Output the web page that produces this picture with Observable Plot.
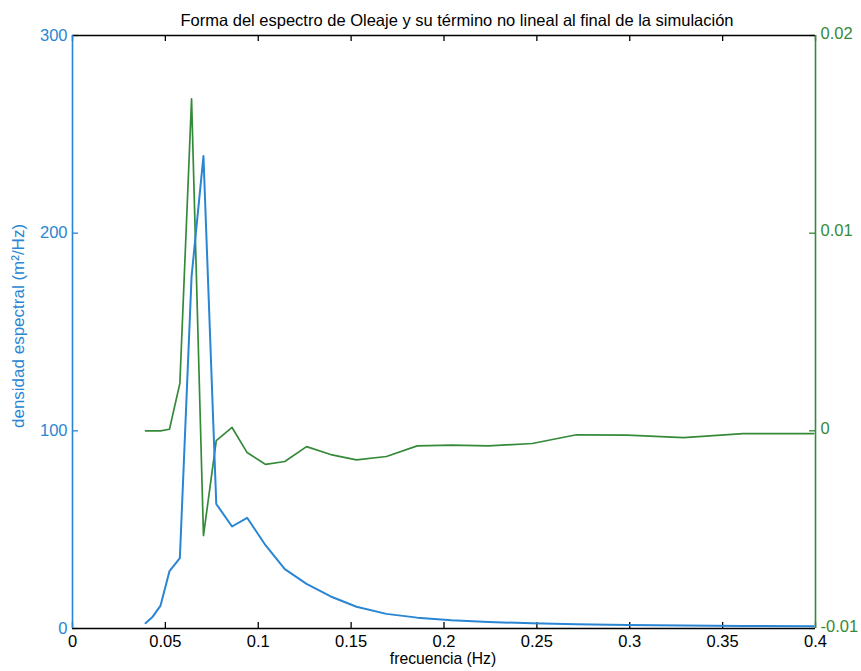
<!DOCTYPE html>
<html>
<head>
<meta charset="utf-8">
<script src="https://cdn.jsdelivr.net/npm/d3@7"></script>
<script src="https://cdn.jsdelivr.net/npm/@observablehq/plot@0.6"></script>
<style>
  body { margin: 0; background: #fff; }
  #chart svg { font-family: "Liberation Sans", Arial, Helvetica, sans-serif; }
</style>
</head>
<body>
<div id="chart"></div>
<script>
// Frecuencias discretas del espectro (Hz)
const frecuencia = [0.0393, 0.0432, 0.0474, 0.0522, 0.0578, 0.0641, 0.0705, 0.0774, 0.0859, 0.0940,
  0.1040, 0.1143, 0.1260, 0.1390, 0.1529, 0.1690, 0.1856, 0.2040, 0.2240, 0.2475,
  0.2713, 0.2986, 0.3290, 0.3610, 0.3990];

// Densidad espectral del oleaje (m²/Hz), eje izquierdo
const densidad = [2.7, 6, 11.6, 29, 35.6, 178, 239, 63, 51.6, 56,
  42, 30, 22.6, 16.2, 11, 7.4, 5.5, 4.2, 3.3, 2.6,
  2.1, 1.8, 1.5, 1.3, 1.1];

// Término no lineal, eje derecho
const terminoNoLineal = [0, 0, 0, 0.00008, 0.0024, 0.0168, -0.0053, -0.0005, 0.00017, -0.0011,
  -0.0017, -0.00155, -0.0008, -0.0012, -0.00147, -0.0013, -0.00076, -0.00072, -0.00076, -0.00064,
  -0.0002, -0.00022, -0.00034, -0.00014, -0.00014];

// Marcas de los ejes
const xTicks = [0, 0.05, 0.1, 0.15, 0.2, 0.25, 0.3, 0.35, 0.4];
const xTickLabels = ["0", "0.05", "0.1", "0.15", "0.2", "0.25", "0.3", "0.35", "0.4"];
const yTicksLeft = [0, 100, 200, 300];
const yTicksRight = [-0.01, 0, 0.01, 0.02];
const yTickLabelsRight = ["-0.01", "0", "0.01", "0.02"];

const titulo = "Forma del espectro de Oleaje y su término no lineal al final de la simulación";
const etiquetaX = "frecuencia (Hz)";
const etiquetaY = "densidad espectral (m²/Hz)";

const azul = "#2a86d2";
const verde = "#358a3a";
const fuente = '"Liberation Sans", Arial, Helvetica, sans-serif';

// Dimensiones del lienzo
const W = 861, H = 671;
const mL = 72, mR = 46, mT = 35, mB = 43;
const tick = 6;

// Dominios de los dos ejes verticales
const leftDomain = [0, 300];
const rightDomain = [-0.01, 0.02];
// Lleva un valor del eje derecho a las unidades del eje izquierdo
const toLeft = (v) => (v - rightDomain[0]) / (rightDomain[1] - rightDomain[0]) * (leftDomain[1] - leftDomain[0]) + leftDomain[0];

const espectro = frecuencia.map((f, i) => ({f, v: densidad[i]}));
const noLineal = frecuencia.map((f, i) => ({f, v: toLeft(terminoNoLineal[i])}));

const xLabel = new Map(xTicks.map((t, i) => [t, xTickLabels[i]]));
const rightPos = yTicksRight.map(toLeft);
const rightLabel = new Map(rightPos.map((p, i) => [p, yTickLabelsRight[i]]));

const frameW = W - mL - mR, frameH = H - mT - mB;

const chart = Plot.plot({
  width: W,
  height: H,
  marginLeft: mL,
  marginRight: mR,
  marginTop: mT,
  marginBottom: mB,
  style: {fontFamily: fuente, fontSize: "16.5px", background: "white", color: "black", overflow: "visible"},
  x: {domain: [0, 0.4]},
  y: {domain: leftDomain},
  marks: [
    // Marcas hacia dentro (abajo, arriba, izquierda, derecha)
    Plot.ruleX(xTicks, {stroke: "black", strokeWidth: 1.3, insetTop: frameH - tick}),
    Plot.ruleX(xTicks, {stroke: "black", strokeWidth: 1.3, insetBottom: frameH - tick}),
    Plot.ruleY(yTicksLeft, {stroke: azul, strokeWidth: 1.3, insetRight: frameW - tick}),
    Plot.ruleY(rightPos, {stroke: verde, strokeWidth: 1.3, insetLeft: frameW - tick}),

    // Caja del gráfico
    Plot.ruleY([leftDomain[1]], {stroke: "black", strokeWidth: 1.6}),
    Plot.ruleY([leftDomain[0]], {stroke: "black", strokeWidth: 1.6}),
    Plot.ruleX([0], {stroke: azul, strokeWidth: 1.6}),
    Plot.ruleX([0.4], {stroke: verde, strokeWidth: 1.6}),

    // Etiquetas de las marcas
    Plot.axisX(xTicks, {anchor: "bottom", tickSize: 0, tickPadding: 7, fill: "black", label: null,
      tickFormat: (d) => xLabel.get(d), fontSize: 16.5}),
    Plot.axisY(yTicksLeft, {anchor: "left", tickSize: 0, tickPadding: 5, fill: azul, label: null,
      tickFormat: (d) => String(d), fontSize: 16.5}),
    Plot.axisY(rightPos, {anchor: "right", tickSize: 0, tickPadding: 5, dy: -2, fill: verde, label: null,
      tickFormat: (d) => rightLabel.get(d), fontSize: 16.5}),

    // Series
    Plot.line(noLineal, {x: "f", y: "v", stroke: verde, strokeWidth: 1.7}),
    Plot.line(espectro, {x: "f", y: "v", stroke: azul, strokeWidth: 2}),

    // Título y nombres de los ejes
    Plot.text([titulo], {frameAnchor: "top", dy: -21, dx: 13, fontSize: 16.5, fill: "black"}),
    Plot.text([etiquetaX], {frameAnchor: "bottom", dy: 35, dx: -1, fontSize: 15.7, fill: "black"}),
    Plot.text([etiquetaY], {frameAnchor: "left", textAnchor: "middle", dx: -54, dy: -6, rotate: -90, fontSize: 17, fill: azul})
  ]
});

document.getElementById("chart").appendChild(chart);
</script>
</body>
</html>
